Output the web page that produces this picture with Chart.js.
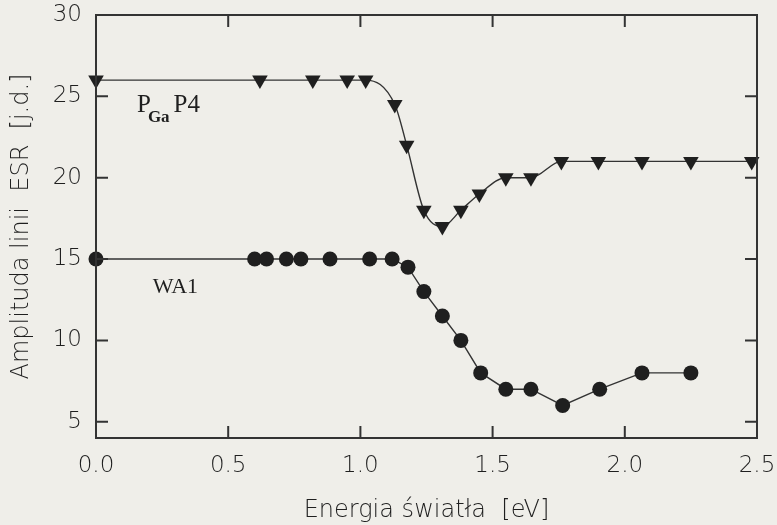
<!DOCTYPE html>
<html>
<head>
<meta charset="utf-8">
<script src="https://cdn.jsdelivr.net/npm/chart.js@4/dist/chart.umd.min.js"></script>
<style>
  html, body { margin: 0; padding: 0; background: #efeee9; }
  #wrap { width: 777px; height: 525px; }
</style>
</head>
<body>
<div id="wrap"><canvas id="esr"></canvas></div>
<script>
// energy [eV] and ESR amplitudes
const energyP = [0, 0.62, 0.82, 0.95, 1.02, 1.13, 1.175, 1.24, 1.31, 1.38, 1.45, 1.55, 1.645, 1.76, 1.90, 2.065, 2.25, 2.48];
const ampP    = [26, 26, 26, 26, 26, 24.5, 22, 18, 17, 18, 19, 20, 20, 21, 21, 21, 21, 21];

const energyW = [0, 0.60, 0.645, 0.72, 0.775, 0.885, 1.035, 1.12, 1.18, 1.24, 1.31, 1.38, 1.455, 1.55, 1.645, 1.765, 1.905, 2.065, 2.25];
const ampW    = [15, 15, 15, 15, 15, 15, 15, 15, 14.5, 13, 11.5, 10, 8, 7, 7, 6, 7, 8, 8];

const xTicks = [0, 0.5, 1.0, 1.5, 2.0, 2.5];
const yTicks = [5, 10, 15, 20, 25, 30];

// in-plot series names: text pieces (subscript flag) anchored at data coordinates
const seriesLabels = [
  { parts: [['P', 0], ['Ga', 1], ['P4', 0]], x: 0.155, y: 24.05 },
  { parts: [['WA1', 0]], x: 0.215, y: 12.93 }
];

const ink = '#1f1f1f';
const tickFont = { family: 'DejaVu Sans', size: 23, weight: 200 };
const titleFont = { family: 'DejaVu Sans', size: 24, weight: 200 };

const toPts = (xs, ys) => xs.map((x, i) => ({ x: x, y: ys[i] }));

const framePlugin = {
  id: 'frame',
  afterDraw(chart) {
    const { ctx, chartArea: a, scales } = chart;
    ctx.save();
    ctx.strokeStyle = '#333';
    ctx.lineWidth = 2;
    ctx.beginPath();
    ctx.rect(a.left, a.top, a.right - a.left, a.bottom - a.top);
    // inward tick marks on all four sides
    const len = 12;
    xTicks.forEach(v => {
      const px = scales.x.getPixelForValue(v);
      ctx.moveTo(px, a.bottom); ctx.lineTo(px, a.bottom - len);
      ctx.moveTo(px, a.top); ctx.lineTo(px, a.top + len);
    });
    yTicks.forEach(v => {
      const py = scales.y.getPixelForValue(v);
      ctx.moveTo(a.left, py); ctx.lineTo(a.left + len, py);
      ctx.moveTo(a.right, py); ctx.lineTo(a.right - len, py);
    });
    ctx.stroke();

    ctx.fillStyle = ink;
    ctx.textBaseline = 'alphabetic';
    seriesLabels.forEach(lab => {
      let px = scales.x.getPixelForValue(lab.x);
      const py = scales.y.getPixelForValue(lab.y);
      lab.parts.forEach(([txt, sub]) => {
        ctx.font = sub ? 'bold 17px "Liberation Serif"' : '25px "Liberation Serif"';
        if (lab.parts.length === 1) ctx.font = '22px "Liberation Serif"';
        ctx.fillText(txt, sub ? px - 3 : px, py + (sub ? 10 : 0));
        px += ctx.measureText(txt).width + (sub ? 1 : 0);
      });
    });
    ctx.restore();
  }
};

new Chart(document.getElementById('esr'), {
  type: 'scatter',
  data: {
    datasets: [
      {
        label: 'PGaP4',
        data: toPts(energyP, ampP),
        showLine: true,
        cubicInterpolationMode: 'monotone',
        borderColor: '#333',
        borderWidth: 1.4,
        pointStyle: 'triangle',
        rotation: 180,
        pointRadius: 9,
        pointBackgroundColor: ink,
        pointBorderColor: ink,
        pointBorderWidth: 0,
        clip: false
      },
      {
        label: 'WA1',
        data: toPts(energyW, ampW),
        showLine: true,
        borderColor: '#333',
        borderWidth: 1.4,
        pointStyle: 'circle',
        pointRadius: 7.5,
        pointBackgroundColor: ink,
        pointBorderColor: ink,
        pointBorderWidth: 0,
        clip: false
      }
    ]
  },
  options: {
    responsive: true,
    maintainAspectRatio: false,
    animation: false,
    layout: { autoPadding: false, padding: { top: 15, right: 20, left: 0, bottom: 0 } },
    plugins: {
      legend: { display: false },
      tooltip: { enabled: false }
    },
    scales: {
      x: {
        type: 'linear',
        min: 0,
        max: 2.5,
        afterBuildTicks: s => { s.ticks = xTicks.map(v => ({ value: v })); },
        afterFit: s => { s.height = 87; s.paddingLeft = 0; s.paddingRight = 0; },
        grid: { display: false, drawTicks: false },
        border: { display: false },
        ticks: {
          padding: 14,
          color: ink,
          font: tickFont,
          callback: v => Number(v).toFixed(1)
        },
        title: {
          display: true,
          text: 'Energia światła  [eV]',
          color: ink,
          font: titleFont,
          padding: { top: 0, bottom: 0 }
        }
      },
      y: {
        type: 'linear',
        min: 4,
        max: 30,
        afterBuildTicks: s => { s.ticks = yTicks.map(v => ({ value: v })); },
        afterFit: s => { s.width = 96; s.paddingTop = 0; s.paddingBottom = 0; },
        grid: { display: false, drawTicks: false },
        border: { display: false },
        ticks: {
          padding: 14,
          color: ink,
          font: tickFont
        },
        title: {
          display: true,
          text: 'Amplituda linii  ESR  [j.d.]',
          color: ink,
          font: titleFont,
          padding: { top: 7, bottom: 0 }
        }
      }
    }
  },
  plugins: [framePlugin]
});
</script>
</body>
</html>
